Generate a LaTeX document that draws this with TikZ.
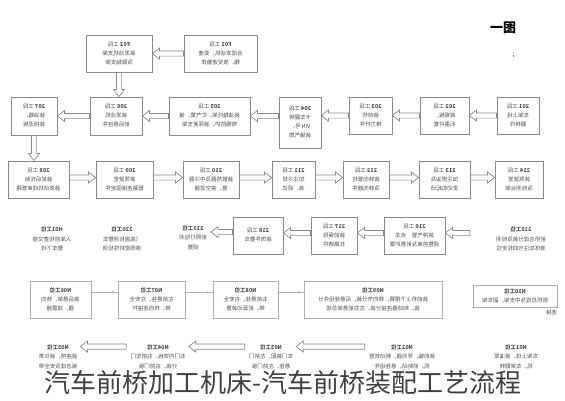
\documentclass[tikz,border=0pt]{standalone}
\usepackage{graphicx}
\usepackage{xcolor}
\usepackage{fontspec}
\setmainfont{Noto Sans CJK SC}
\usetikzlibrary{calc,arrows.meta,decorations.markings}
\definecolor{boxgray}{HTML}{8A8A8A}
\definecolor{txtgray}{HTML}{505050}
\newcommand{\mtxt}[1]{\reflectbox{\begin{tabular}{@{}c@{}}#1\end{tabular}}}
\tikzset{
  box/.style={draw=boxgray, line width=0.9pt, fill=white, inner sep=0pt, minimum height=37,
    text=txtgray, font=\fontsize{5.5}{9}\selectfont},
  nbox/.style={box, draw=boxgray!70, line width=0.6pt},
  plain/.style={inner sep=0pt, text=txtgray, font=\fontsize{5.5}{9.5}\selectfont},
  hollow/.style={draw=boxgray, line width=0.7pt, fill=white,
    to path={let \p1=(\tikztostart), \p2=(\tikztotarget),
      \n1={atan2(\y2-\y1,\x2-\x1)}, \n2={veclen(\x2-\x1,\y2-\y1)} in
      {[shift={(\p1)}, rotate=\n1]
      (0pt,-2.6pt) -- (\n2-7pt,-2.6pt) -- (\n2-7pt,-5.5pt) -- (\n2,0pt)
      -- (\n2-7pt,5.5pt) -- (\n2-7pt,2.6pt) -- (0pt,2.6pt) -- cycle}}},
  thinlink/.style={draw=boxgray!70, line width=0.5pt,
    postaction={decorate}, decoration={markings,
      mark=at position 0.85 with {\arrow{Straight Barb[length=1.6pt,width=2.6pt]}}}}
}

\begin{document}
\begin{tikzpicture}[x=1pt,y=-1pt]
  \useasboundingbox (0,0) rectangle (565,400);
  % \draw[step=10,gray!20,very thin] (0,0) grid (565,400);

  \node[font=\fontsize{13}{13}\selectfont\bfseries] (fig) at (503,28) {\reflectbox{图一}};
  \node[font=\fontsize{7}{7}\selectfont] (semi) at (514,55) {\reflectbox{;}};

  \node[box, minimum width=73] (f01) at (220.5,53.5) {\mtxt{\textbf{F01} 工段\\合成发动机、变速\\箱、放变速箱体}};
  \node[box, minimum width=66] (f02) at (119,53.5) {\mtxt{\textbf{F02} 工段\\装发动机支架\\及联轴支架}};

  \node[box, minimum width=42] (s201) at (518,115.5) {\mtxt{\textbf{201} 工段\\车架上线\\翻转件}};
  \node[box, minimum width=49] (s202) at (444.5,115.5) {\mtxt{\textbf{202} 工段\\装钢板、\\石墨衬套}};
  \node[box, minimum width=43] (s203) at (370.5,115.5) {\mtxt{\textbf{203} 工段\\装前桥\\推力杆件}};
  \node[box, minimum width=42, minimum height=51] (s204) at (300,122.5) {\mtxt{\textbf{204} 工段\\卡车翻转\\VIN 号、\\装储气筒}};
  \node[box, minimum width=81, minimum height=38] (s205) at (209.5,116) {\mtxt{\textbf{205} 工段\\装油箱托架、贮气筒、储\\物箱防护、装尿素支架}};
  \node[box, minimum width=52, minimum height=38] (s206) at (116,116) {\mtxt{\textbf{206} 工段\\装发动机\\前后悬挂件}};
  \node[box, minimum width=46, minimum height=38] (s207) at (34,116) {\mtxt{\textbf{207} 工段\\装油箱、\\装挡泥板}};

  \node[box, minimum width=61] (s208) at (38.5,179.5) {\mtxt{\textbf{208} 工段\\装前后轮胎\\装发动机线束管路}};
  \node[box, minimum width=57] (s209) at (124.5,179.5) {\mtxt{\textbf{209} 工段\\装驾驶室\\管路连接固定件}};
  \node[box, minimum width=56] (s210) at (211,179.5) {\mtxt{\textbf{210} 工段\\装散热器及中冷器\\管、装空滤器}};
  \node[box, minimum width=43] (s211) at (293.5,179.5) {\mtxt{\textbf{211} 工段\\加注冷却\\液、调试}};
  \node[box, minimum width=46] (s212) at (366,179.5) {\mtxt{\textbf{212} 工段\\装转向管柱\\及转向器件}};
  \node[box, minimum width=51] (s213) at (444.5,179.5) {\mtxt{\textbf{213} 工段\\加注燃油及\\发动机起动}};
  \node[box, minimum width=48] (s214) at (519,179.5) {\mtxt{\textbf{214} 工段\\装驾驶室\\及检测台架}};

  \node[plain] (s215) at (521,239.5) {\mtxt{\textbf{215工位}\\前桥总成分装及检测\\液体加注与四轮定位}};
  \node[box, minimum width=61] (s216) at (414.5,235.5) {\mtxt{\textbf{216} 工段\\装排气管\quad 合龙\\调整前束及前悬护罩}};
  \node[box, minimum width=46] (s217) at (334,235.5) {\mtxt{\textbf{217} 工段\\装前保险\\杠路牌件}};
  \node[box, minimum width=50, text depth=9] (s218) at (258,235.5) {\mtxt{\textbf{218} 工段\\装饰件整车}};
  \node[plain] (s219) at (193,238) {\mtxt{\textbf{219工位}\\前照灯检测\\调整}};
  \node[plain] (s220) at (122,239.5) {\mtxt{\textbf{220工位}\\（底盘检测整车\\淋雨密封性检测}};
  \node[plain] (h01) at (52,239.5) {\mtxt{\textbf{H01工位}\\入库前检查交接\\整车下线}};

  \node[nbox, minimum width=61] (n06) at (60.5,299.5) {\mtxt{\textbf{N06工位}\\装后悬架、转向\\器、减震器}};
  \node[nbox, minimum width=67] (n07) at (151.5,299.5) {\mtxt{\textbf{N07工位}\\左前悬挂、左安全\\带、转向连接杆}};
  \node[nbox, minimum width=65] (n08) at (245.5,299.5) {\mtxt{\textbf{N08工位}\\右前悬挂、右安全\\带、前驱动装置}};
  \node[nbox, minimum width=138] (n09) at (373,299.5) {\mtxt{\textbf{N09工位}\\装前桥上下摆臂、转向节分装、后悬挂组件分\\装、制动器连接分装、左右前悬架总成}};
  \node[nbox, minimum width=84, minimum height=22,
    label={[plain, anchor=north east]south east:\mtxt{连接}}] (n10) at (515,296)
    {\mtxt{\textbf{N10工位}\\前桥总成及中支架、副车架}};

  \node[plain] (n01) at (516,357) {\mtxt{\textbf{N01工位}\\车架上线、装油泵\\机、车架翻转}};
  \node[plain] (n02) at (402,357) {\mtxt{\textbf{N02工位}\\装前轴、导向器、制动软管\\机、前制动、悬挂组件}};
  \node[plain] (n03) at (271,357) {\mtxt{\textbf{N03工位}\\车门装配、左前门\\悬挂、左前门板}};
  \node[plain] (n04) at (158,357) {\mtxt{\textbf{N04工位}\\右门内饰板、右前车门\\分装、右前门板}};
  \node[plain] (n05) at (58,357) {\mtxt{\textbf{N05工位}\\装座椅、装仪表\\板总成及安全带}};

  \draw[hollow] (f01.west) to (f02.east);
  \draw[hollow] (f02.south) to (f02.south |- s206.north);
  \draw[hollow] (s201.west) to (s202.east);
  \draw[hollow] (s202.west) to (s203.east);
  \draw[hollow] (s203.west) to (s203.west -| s204.east);
  \draw[hollow] (s204.west |- s205.east) to (s205.east);
  \draw[hollow] (s205.west) to (s206.east);
  \draw[hollow] (s206.west) to (s207.east);
  \draw[hollow] (s207.south) to (s207.south |- s208.north);
  \draw[hollow] ([yshift=2]s208.east) to ([yshift=2]s209.west);
  \draw[hollow] ([yshift=2]s209.east) to ([yshift=2]s210.west);
  \draw[hollow] ([yshift=2]s210.east) to ([yshift=2]s211.west);
  \draw[hollow] ([yshift=2]s211.east) to ([yshift=2]s212.west);
  \draw[hollow] ([yshift=2]s212.east) to ([yshift=2]s213.west);
  \draw[hollow] ([yshift=2]s213.east) to ([yshift=2]s214.west);
  \draw[hollow] ([xshift=-26,yshift=2.5]s216.east -| s215.west) to ([yshift=2.5]s216.east);
  \draw[hollow] ([yshift=2.5]s216.west) to ([yshift=2.5]s217.east);
  \draw[hollow] ([yshift=2.5]s217.west) to ([yshift=2.5]s218.east);
  \draw[hollow] ([yshift=3.5]s218.west) to ([xshift=4,yshift=3.5]s218.west -| s219.east);

  \draw[thinlink] (n06.east |- 0,292) -- (n07.west |- 0,292);
  \draw[thinlink] (n07.east |- 0,292) -- (n08.west |- 0,292);
  \draw[thinlink] (n08.east |- 0,292) -- (n09.west |- 0,292);

  \draw[hollow] ([xshift=-4,yshift=-4]n02.west |- n02.north) to ([xshift=3,yshift=-4]n03.east |- n03.north);
  \draw[hollow] ([xshift=-4,yshift=-4]n03.west |- n03.north) to ([xshift=3,yshift=-4]n04.east |- n04.north);
  \draw[hollow] ([xshift=-4,yshift=-4]n04.west |- n04.north) to ([xshift=3,yshift=-4]n05.east |- n05.north);

  \node[font=\fontsize{26}{26}\selectfont, text=black!75] (title) at (283,383)
    {汽车前桥加工机床-汽车前桥装配工艺流程};
\end{tikzpicture}
\end{document}
